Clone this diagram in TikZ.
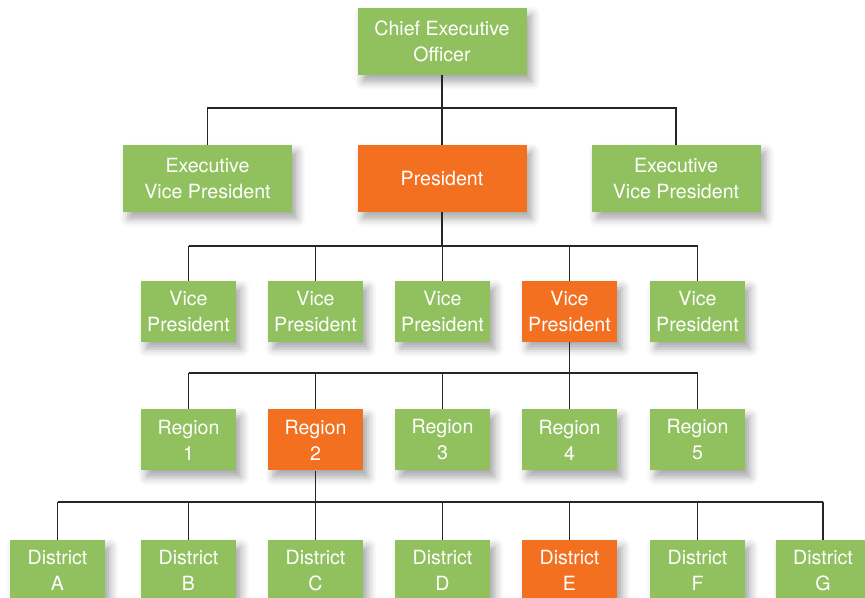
\documentclass[tikz,border=0pt]{standalone}
\usepackage{fontspec}
\setmainfont{TeX Gyre Heros}
\usetikzlibrary{shadows.blur}
\definecolor{boxgreen}{RGB}{145,193,95}
\definecolor{boxorange}{RGB}{243,112,33}

\begin{document}
\begin{tikzpicture}[
    x=0.75pt, y=-0.75pt,
    box/.style={text=white, align=center, inner sep=0pt,
                font=\fontsize{14.7}{19.5}\selectfont,
                blur shadow={shadow xshift=4pt, shadow yshift=-5pt,
                             shadow blur radius=6pt, shadow opacity=35}},
    wide/.style={box, minimum width=126.75pt, minimum height=50.25pt},
    small/.style={box, minimum width=71.25pt, minimum height=45.75pt},
    link/.style={draw, line width=1pt, black!85}
  ]
  \useasboundingbox (0,0) rectangle (865,598);

  % Top levels
  \node[wide, fill=boxgreen] (ceo) at (442,41.5) {Chief Executive\\Officer};
  \node[wide, fill=boxgreen] (evpl) at (207.5,178.5) {Executive\\Vice President};
  \node[wide, fill=boxorange] (pres) at (442,178.5) {President};
  \node[wide, fill=boxgreen] (evpr) at (676,178.5) {Executive\\Vice President};

  % Vice presidents
  \foreach \i/\x/\c in {1/188.5/boxgreen, 2/315.5/boxgreen, 3/442.5/boxgreen,
                        4/569.5/boxorange, 5/697.5/boxgreen} {
    \node[small, fill=\c] (vp\i) at (\x,311.5) {Vice\\President};
  }

  % Regions
  \foreach \i/\x/\c in {1/188.5/boxgreen, 2/315.5/boxorange, 3/442.5/boxgreen,
                        4/569.5/boxgreen, 5/697.5/boxgreen} {
    \node[small, fill=\c] (r\i) at (\x,440) {Region\\\i};
  }

  % Districts
  \foreach \l/\x/\c in {A/57.5/boxgreen, B/188.5/boxgreen, C/315.5/boxgreen,
                        D/442.5/boxgreen, E/569.5/boxorange, F/697.5/boxgreen,
                        G/823/boxgreen} {
    \node[small, fill=\c] (d\l) at (\x,570.5) {District\\\l};
  }

  % Connectors
  \coordinate (bus1) at (442,108);
  \coordinate (bus2) at (442,246);
  \coordinate (bus3) at (569.5,373);
  \coordinate (bus4) at (315.5,502);

  \draw[link] (ceo.south) -- (pres.north);
  \draw[link] (evpl.north) -- (evpl.north |- bus1) -- (evpr.north |- bus1)
    -- (evpr.north);

  \draw[link] (pres.south) -- (bus2);
  \draw[link] (vp1.north |- bus2) -- (vp5.north |- bus2);
  \foreach \i in {1,...,5}
    \draw[link] (vp\i.north) -- (vp\i.north |- bus2);

  \draw[link] (vp4.south) -- (bus3);
  \draw[link] (r1.north |- bus3) -- (r5.north |- bus3);
  \foreach \i in {1,...,5}
    \draw[link] (r\i.north) -- (r\i.north |- bus3);

  \draw[link] (r2.south) -- (bus4);
  \draw[link] (dA.north |- bus4) -- (dG.north |- bus4);
  \foreach \l in {A,B,C,D,E,F,G}
    \draw[link] (d\l.north) -- (d\l.north |- bus4);
\end{tikzpicture}
\end{document}
